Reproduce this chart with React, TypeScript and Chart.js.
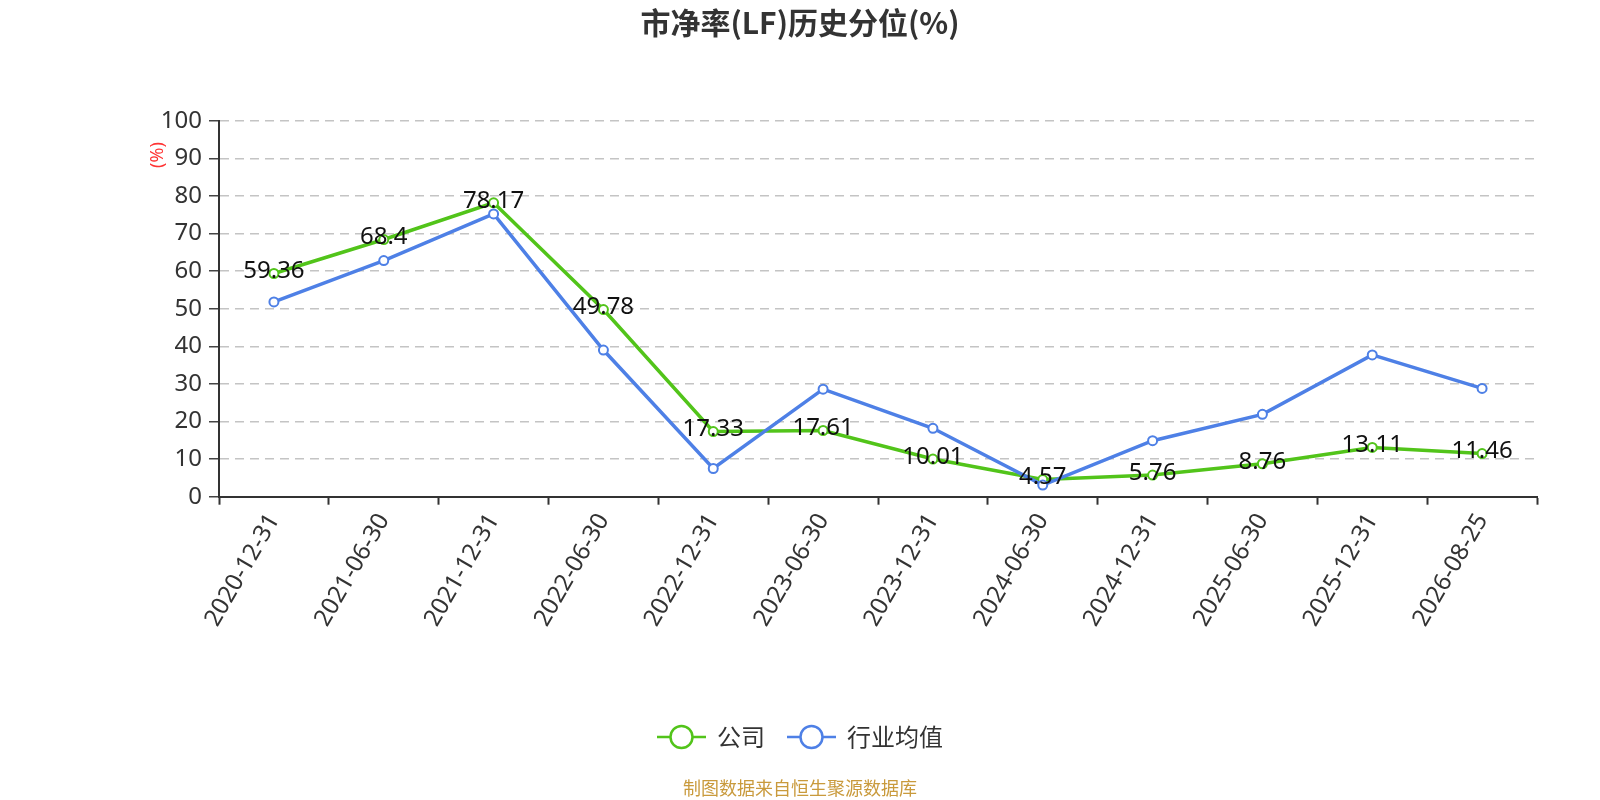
import React, { useEffect, useRef } from "react";
import { Chart, registerables } from "chart.js";

Chart.register(...registerables);

const categories = [
  "2020-12-31", "2021-06-30", "2021-12-31", "2022-06-30", "2022-12-31", "2023-06-30",
  "2023-12-31", "2024-06-30", "2024-12-31", "2025-06-30", "2025-12-31", "2026-08-25",
];
const companyValues = [59.36, 68.4, 78.17, 49.78, 17.33, 17.61, 10.01, 4.57, 5.76, 8.76, 13.11, 11.46];
const industryValues = [51.8, 62.8, 75.2, 39.0, 7.5, 28.6, 18.2, 3.1, 14.9, 21.9, 37.7, 28.8];
const seriesNames = ["公司", "行业均值"];
const titleText = "市净率(LF)历史分位(%)";
const yAxisTitle = "(%)";
const footerText = "制图数据来自恒生聚源数据库";

const GREEN = "#52c41a";
const BLUE = "#4e80e6";
const FONT = "'Noto Sans', 'Noto Sans CJK SC', sans-serif";
const CJK = "'Noto Sans CJK SC', 'Noto Sans', sans-serif";

const decorPlugin = {
  id: "decor",
  afterDatasetsDraw(chart: any) {
    const ctx = chart.ctx;
    const meta = chart.getDatasetMeta(0);
    ctx.save();
    ctx.font = `24px ${FONT}`;
    ctx.fillStyle = "#111";
    ctx.textAlign = "center";
    ctx.textBaseline = "middle";
    meta.data.forEach((pt: any, i: number) => {
      ctx.fillText(String(companyValues[i]), pt.x, pt.y - 2);
    });
    ctx.restore();
  },
  afterDraw(chart: any) {
    const ctx = chart.ctx;
    const W = chart.width;
    ctx.save();
    // title
    ctx.font = `bold 30px ${CJK}`;
    ctx.fillStyle = "#333";
    ctx.textAlign = "center";
    ctx.textBaseline = "middle";
    ctx.fillText(titleText, W / 2, 23);
    // y axis title
    ctx.save();
    ctx.translate(158, 155);
    ctx.rotate(-Math.PI / 2);
    ctx.font = `18px ${FONT}`;
    ctx.fillStyle = "#ff3333";
    ctx.textAlign = "center";
    ctx.textBaseline = "middle";
    ctx.fillText(yAxisTitle, 0, 0);
    ctx.restore();
    // legend
    ctx.font = `24px ${CJK}`;
    const colors = [GREEN, BLUE];
    const itemW = seriesNames.map((n) => 60 + ctx.measureText(n).width);
    const gap = 22;
    const total = itemW.reduce((a, b) => a + b, 0) + gap * (seriesNames.length - 1);
    let x = W / 2 - total / 2;
    const ly = 737;
    seriesNames.forEach((n, i) => {
      ctx.strokeStyle = colors[i];
      ctx.lineWidth = 2.5;
      ctx.beginPath();
      ctx.moveTo(x, ly);
      ctx.lineTo(x + 49, ly);
      ctx.stroke();
      ctx.beginPath();
      ctx.arc(x + 24.5, ly, 11, 0, Math.PI * 2);
      ctx.fillStyle = "#fff";
      ctx.fill();
      ctx.stroke();
      ctx.fillStyle = "#333";
      ctx.textAlign = "left";
      ctx.textBaseline = "middle";
      ctx.fillText(n, x + 60, ly);
      x += itemW[i] + gap;
    });
    // footer
    ctx.font = `18px ${CJK}`;
    ctx.fillStyle = "#c99a3c";
    ctx.textAlign = "center";
    ctx.textBaseline = "middle";
    ctx.fillText(footerText, W / 2, 788);
    ctx.restore();
  },
};

export default function App() {
  const ref = useRef<HTMLCanvasElement | null>(null);
  useEffect(() => {
    if (!ref.current) return;
    const chart = new Chart(ref.current, {
      type: "line",
      data: {
        labels: categories,
        datasets: [
          {
            label: seriesNames[0],
            data: companyValues,
            borderColor: GREEN,
            backgroundColor: "#fff",
            borderWidth: 3.5,
            pointRadius: 4.5,
            pointBorderWidth: 2,
            pointBackgroundColor: "#fff",
            pointBorderColor: GREEN,
            tension: 0,
            order: 1,
          },
          {
            label: seriesNames[1],
            data: industryValues,
            borderColor: BLUE,
            backgroundColor: "#fff",
            borderWidth: 3.5,
            pointRadius: 4.5,
            pointBorderWidth: 2,
            pointBackgroundColor: "#fff",
            pointBorderColor: BLUE,
            tension: 0,
            order: 0,
          },
        ],
      },
      options: {
        responsive: false,
        animation: false,
        devicePixelRatio: 1,
        layout: { padding: { top: 120.7, right: 63, left: 0, bottom: 0 } },
        plugins: {
          legend: { display: false },
          title: { display: false },
          tooltip: { enabled: false },
        },
        scales: {
          x: {
            type: "category",
            offset: true,
            grid: {
              offset: true,
              drawOnChartArea: false,
              drawTicks: true,
              tickLength: 8,
              tickColor: "#333",
              tickWidth: 2,
            },
            border: { color: "#333", width: 2 },
            ticks: {
              color: "#333",
              font: { size: 24, family: FONT },
              maxRotation: 60,
              minRotation: 60,
              padding: 4,
              autoSkip: false,
            },
            afterFit(scale: any) {
              scale.height = 800 - 496.7;
            },
          },
          y: {
            min: 0,
            max: 100,
            ticks: {
              stepSize: 10,
              color: "#333",
              font: { size: 24, family: FONT },
              padding: 7,
            },
            grid: {
              color: "#c4c4c4",
              lineWidth: 1.5,
              tickLength: 10,
              tickColor: "#444",
              tickWidth: 1.5,
              tickBorderDash: [],
            },
            border: { color: "#333", width: 2, dash: [9, 6] },
            afterFit(scale: any) {
              scale.width = 219;
            },
          },
        },
      },
      plugins: [decorPlugin],
    } as any);
    return () => chart.destroy();
  }, []);
  return (
    <div style={{ position: "absolute", left: 0, top: 0, width: 1600, height: 800, background: "#fff" }}>
      <canvas ref={ref} width={1600} height={800} style={{ width: 1600, height: 800 }} />
    </div>
  );
}
